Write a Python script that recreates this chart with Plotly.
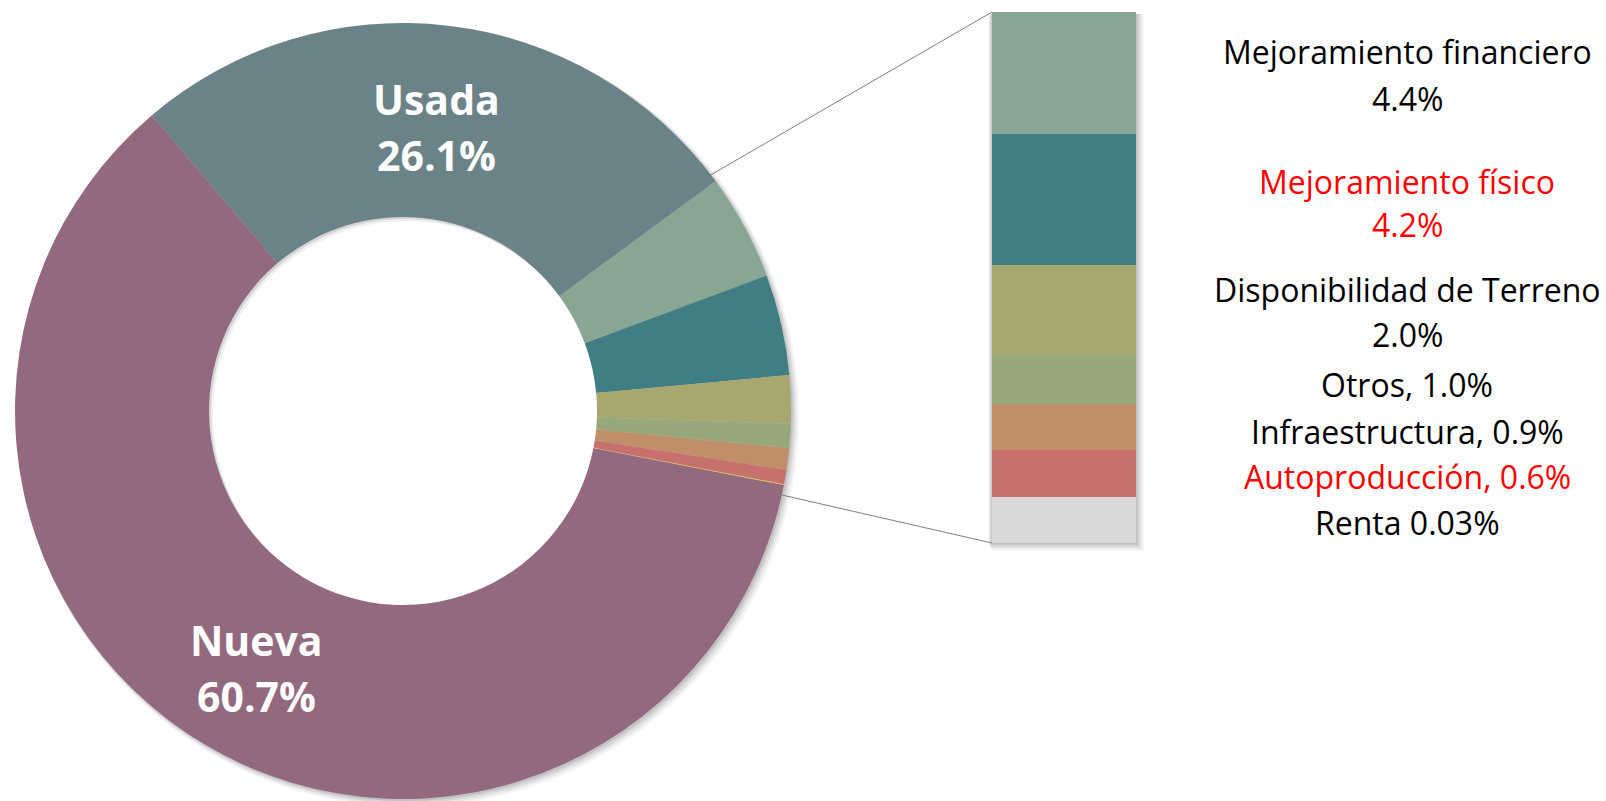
import math
import plotly.graph_objects as go

W, H = 1606, 801

# ---------------- data ----------------
pie_labels = ["Nueva", "Usada", "Mejoramiento financiero", "Mejoramiento físico",
              "Disponibilidad de Terreno", "Otros", "Infraestructura", "Autoproducción", "Renta"]
pie_values = [60.7, 26.1, 4.4, 4.2, 2.0, 1.0, 0.9, 0.6, 0.03]

# secondary bar (top to bottom) – segment sizes
bar_labels = pie_labels[2:]
bar_values = [122, 131, 90, 49, 46, 47, 46]

# ---------------- styles ----------------
pie_colors = ["#93697F", "#6B8288", "#89A693", "#417E84", "#A8A76F",
              "#97A97B", "#C08F69", "#C7716F", "#E2C33F"]
bar_colors = ["#89A693", "#417E84", "#A8A76F", "#97A97B", "#C08F69", "#C7716F", "#D9D9D9"]
label_red = {"Mejoramiento físico", "Autoproducción"}
two_line = {"Mejoramiento financiero", "Mejoramiento físico", "Disponibilidad de Terreno"}

# geometry (pixels)
cx, cy, R = 403, 411, 388
hole = 0.5
bar_x0, bar_x1, bar_y0, bar_y1 = 992, 1136, 12, 543
rotation = 101


def px(x):
    return x / W


def py(y):
    return 1 - y / H


fig = go.Figure()

# soft shadow behind pie
for d, op in [(8, 0.04), (6, 0.05), (4, 0.07), (2, 0.09)]:
    fig.add_shape(type="circle", xref="paper", yref="paper",
                  x0=px(cx - R + 2), x1=px(cx + R + d), y0=py(cy + R + d), y1=py(cy - R + 2),
                  fillcolor="rgba(0,0,0,%s)" % op, line_width=0, layer="below")
# hole: white with a faint inner shadow on the upper-left edge
rh = R * hole
fig.add_shape(type="circle", xref="paper", yref="paper",
              x0=px(cx - rh), x1=px(cx + rh), y0=py(cy + rh), y1=py(cy - rh),
              fillcolor="#D6D6D6", line_width=0, layer="below")
fig.add_shape(type="circle", xref="paper", yref="paper",
              x0=px(cx - rh + 2), x1=px(cx + rh + 2), y0=py(cy + rh + 2), y1=py(cy - rh + 2),
              fillcolor="#F0F0F0", line_width=0, layer="below")
fig.add_shape(type="circle", xref="paper", yref="paper",
              x0=px(cx - rh + 4), x1=px(cx + rh + 4), y0=py(cy + rh + 4), y1=py(cy - rh + 4),
              fillcolor="white", line_width=0, layer="below")

# soft shadow behind bar
for d, op in [(8, 0.04), (6, 0.05), (4, 0.07), (2, 0.09)]:
    fig.add_shape(type="rect", xref="paper", yref="paper",
                  x0=px(bar_x0 - 4 + d / 2), x1=px(bar_x1 + d), y0=py(bar_y1 + d), y1=py(bar_y0 + 2),
                  fillcolor="rgba(0,0,0,%s)" % op, line_width=0, layer="below")

fig.add_trace(go.Pie(
    labels=pie_labels, values=pie_values, sort=False, direction="clockwise",
    rotation=rotation, hole=hole, textinfo="none", showlegend=False,
    marker=dict(colors=pie_colors, line=dict(width=0)),
    domain=dict(x=[px(cx - R), px(cx + R)], y=[py(cy + R), py(cy - R)]),
))

# stacked bar, bottom-up
for lab, val, col in reversed(list(zip(bar_labels, bar_values, bar_colors))):
    fig.add_trace(go.Bar(x=[0], y=[val], width=1, marker=dict(color=col, line=dict(width=0)),
                         name=lab, showlegend=False, hoverinfo="name"))

fig.update_layout(
    width=W, height=H, margin=dict(l=0, r=0, t=0, b=0),
    paper_bgcolor="white", plot_bgcolor="rgba(0,0,0,0)",
    barmode="stack", bargap=0,
    xaxis=dict(domain=[px(bar_x0), px(bar_x1)], range=[-0.5, 0.5], visible=False, fixedrange=True),
    yaxis=dict(domain=[py(bar_y1), py(bar_y0)], range=[0, sum(bar_values)], visible=False, fixedrange=True),
    font=dict(family="Open Sans", color="black"),
)

# connector lines
total = sum(pie_values)
a_top = math.radians(rotation + (pie_values[0] + pie_values[1]) / total * 360 - 1.5)
a_bot = math.radians(rotation + 1.5)
r_top = R * 0.96
fig.add_shape(type="line", xref="paper", yref="paper",
              x0=px(cx + r_top * math.sin(a_top)), y0=py(cy - r_top * math.cos(a_top)),
              x1=px(bar_x0), y1=py(bar_y0), line=dict(color="#7F7F7F", width=1))
fig.add_shape(type="line", xref="paper", yref="paper",
              x0=px(cx + R * math.sin(a_bot)), y0=py(cy - R * math.cos(a_bot)),
              x1=px(bar_x0), y1=py(bar_y1), line=dict(color="#7F7F7F", width=1))

# labels on the donut
main_pos = {"Usada": (437, 97, 153), "Nueva": (256, 638, 694)}
for lab, val in zip(pie_labels[:2], pie_values[:2]):
    x, y1, y2 = main_pos[lab]
    for txt, yy in [(lab, y1), (f"{val}%", y2)]:
        fig.add_annotation(x=px(x), y=py(yy + 2), xref="paper", yref="paper", text=f"<b>{txt}</b>",
                           showarrow=False, xanchor="center", yanchor="middle",
                           font=dict(family="Open Sans", size=41, color="white"))

# labels for the breakdown
line_y = {
    "Mejoramiento financiero": (48, 96),
    "Mejoramiento físico": (178, 221),
    "Disponibilidad de Terreno": (286, 331),
    "Otros": (381,),
    "Infraestructura": (428,),
    "Autoproducción": (473,),
    "Renta": (519,),
}


def fmt(v):
    return f"{v:.2f}%" if v < 0.1 else f"{v:.1f}%"


for lab, val in zip(pie_labels[2:], pie_values[2:]):
    col = "#FF0000" if lab in label_red else "black"
    if lab in two_line:
        lines = [lab, fmt(val)]
    elif lab == "Renta":
        lines = [f"{lab} {fmt(val)}"]
    else:
        lines = [f"{lab}, {fmt(val)}"]
    for txt, yy in zip(lines, line_y[lab]):
        fig.add_annotation(x=px(1407), y=py(yy + 3), xref="paper", yref="paper", text=txt,
                           showarrow=False, xanchor="center", yanchor="middle",
                           font=dict(family="Open Sans", size=32, color=col))

fig.write_html("out.html", config={"displayModeBar": False},
               post_script="document.body.style.margin='0';document.body.style.overflow='hidden';")
